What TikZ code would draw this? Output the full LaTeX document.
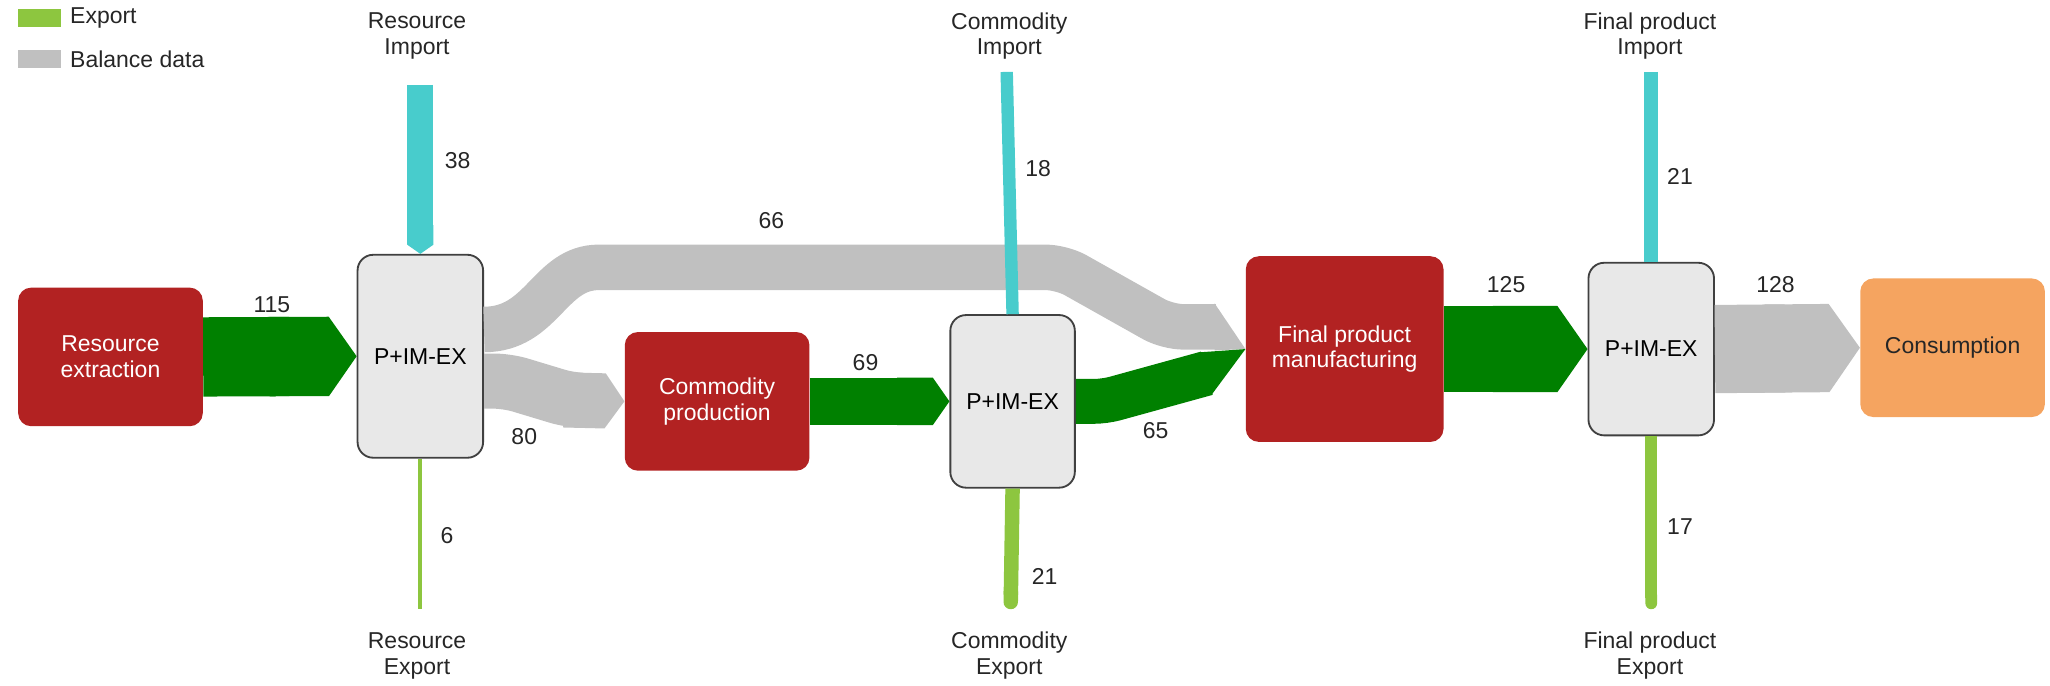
\documentclass[tikz,border=0pt]{standalone}
\usepackage{fontspec}
\setmainfont{Liberation Sans}
\usepackage{tikz}
\usetikzlibrary{shapes,arrows.meta}
\usetikzlibrary{calc}
\definecolor{prodred}{RGB}{178,34,34}
\definecolor{flowgreen}{RGB}{0,128,0}
\definecolor{exportgreen}{RGB}{141,198,63}
\definecolor{importcyan}{RGB}{72,204,204}
\definecolor{balancegray}{RGB}{192,192,192}
\definecolor{pimgray}{RGB}{232,232,232}
\definecolor{consorange}{RGB}{245,164,96}
\tikzstyle{procblock} = [rectangle, fill=prodred, text=white, align=center,
    rounded corners=0.25cm, minimum width=3.53cm, minimum height=2.65cm, inner sep=0pt]
\tikzstyle{pimblock} = [rectangle, draw=black!75, line width=1pt, fill=pimgray, align=center,
    rounded corners=0.3cm, minimum width=2.4cm, minimum height=3.3cm, inner sep=0pt]
\tikzstyle{endblock} = [rectangle, fill=consorange, text=black!85, align=center,
    rounded corners=0.25cm, minimum width=3.53cm, minimum height=2.65cm, inner sep=0pt]
\tikzstyle{swatch} = [rectangle, minimum width=0.82cm, minimum height=0.34cm, inner sep=0pt]
\tikzstyle{val} = [text=black!85, inner sep=1pt]
\tikzstyle{side} = [text=black!85, align=center, inner sep=0pt]
\tikzstyle{head} = [-{Triangle Cap[length=+0pt 0.35]}]
\tikzset{flow/.style={line width=#1*0.375pt, line cap=butt}}

\begin{document}
\begin{tikzpicture}[x=0.025cm, y=-0.025cm, font=\fontsize{12.5}{14}\selectfont]
    \useasboundingbox (0,0) rectangle (1568,524);
    % legend
    \node [swatch, fill=exportgreen] (legexport) at (30,14) {};
    \node [val, anchor=west] (legexporttxt) at (52,14) {Export};
    \node [swatch, fill=balancegray] (legbalance) at (30,45) {};
    \node [val, anchor=west] (legbalancetxt) at (52,45) {Balance data};

    % process chain
    \node [procblock] (extraction) at (84.5,273) {Resource\\extraction};
    \node [pimblock, minimum height=3.88cm] (pim1) at (321.5,272.5) {P+IM-EX};
    \node [procblock] (commodity) at (548.5,307) {Commodity\\production};
    \node [pimblock, minimum width=2.38cm] (pim2) at (774.5,307) {P+IM-EX};
    \node [procblock, minimum width=3.78cm, minimum height=3.55cm] (final) at (1028.5,267) {Final product\\manufacturing};
    \node [pimblock] (pim3) at (1263,267) {P+IM-EX};
    \node [endblock] (consumption) at (1493.5,266) {Consumption};

    % import and export ends
    \node [side] (resimport) at (319,27.5) {Resource\\Import};
    \node [side] (resexport) at (319,501.5) {Resource\\Export};
    \node [side] (comimport) at (772,27.5) {Commodity\\Import};
    \node [side] (comexport) at (772,501.5) {Commodity\\Export};
    \node [side] (finimport) at (1262,27.5) {Final product\\Import};
    \node [side] (finexport) at (1262,501.5) {Final product\\Export};
    \coordinate (resin) at (321.5,65);
    \coordinate (resout) at (321.5,466);
    \coordinate (comin) at (770,55);
    \coordinate (comout) at (773,466);
    \coordinate (finin) at (1263,55);
    \coordinate (finout) at (1263,466);

    % Draw edges
    \draw [flow=115, flowgreen, head] (extraction.east) -- (pim1.west);
    \draw [flow=38, importcyan, head] (resin) -- (pim1.north);
    \draw [flow=6, exportgreen] (pim1.south) -- (resout);
    \draw [flow=80, balancegray, head, rounded corners=0.25cm] ($(pim1.east)+(0,19)$) -- (388,291.5)
        -- (436,306) -- (commodity.west);
    \draw [flow=66, balancegray, rounded corners=0.3cm] ($(pim1.east)+(0,-20.5)$)
        .. controls (415,252) and (420,204.5) .. (470,204.5) -- (812,204.5) -- (893,250) -- (930,250);
    \fill [balancegray] (929,232) -- (final.west) -- (929,268) -- cycle;
    \draw [flow=69, flowgreen, head] (commodity.east) -- (pim2.west);
    \draw [flow=18, importcyan] (comin) -- (pim2.north);
    \draw [flow=21, exportgreen, -{Round Cap}] (pim2.south) -- (comout);
    \draw [flow=65, flowgreen, rounded corners=0.2cm] (pim2.east) -- (845,307) -- (923,285.5);
    \fill [flowgreen] (917.4,269.5) -- (final.west) -- (926.6,302.1) -- cycle;
    \draw [flow=125, flowgreen, head] (final.east) -- (pim3.west);
    \draw [flow=21, importcyan] (finin) -- (pim3.north);
    \draw [flow=17, exportgreen, -{Round Cap}] (pim3.south) -- (finout);
    \draw [flow=128, balancegray, head] (pim3.east) -- (consumption.west);

    % flow values
    \node [val] (v115) at (208,233) {115};
    \node [val] (v38) at (350,123) {38};
    \node [val] (v6) at (342,410) {6};
    \node [val] (v80) at (401,334) {80};
    \node [val] (v66) at (590,169) {66};
    \node [val] (v69) at (662,277) {69};
    \node [val] (v65) at (884,329) {65};
    \node [val] (v18) at (794,129) {18};
    \node [val] (v21ex) at (799,441) {21};
    \node [val] (v125) at (1152,218) {125};
    \node [val] (v21im) at (1285,135) {21};
    \node [val] (v128) at (1358,218) {128};
    \node [val] (v17) at (1285,403) {17};
\end{tikzpicture}
\end{document}
